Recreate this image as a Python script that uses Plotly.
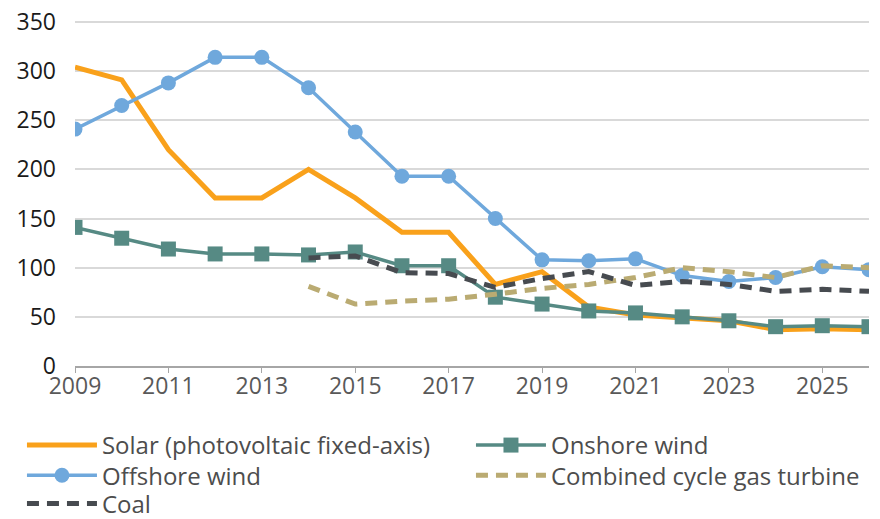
import plotly.graph_objects as go

years = list(range(2009, 2027))

solar = [304, 291, 220, 171, 171, 200, 171, 136, 136, 83, 96, 60, 52, 49, 46, 37, 38, 37]
offshore = [241, 265, 288, 314, 314, 283, 238, 193, 193, 150, 108, 107, 109, 92, 86, 90, 101, 98]
onshore = [141, 130, 119, 114, 114, 113, 116, 102, 102, 70, 63, 56, 54, 50, 46, 40, 41, 40]
ccgt_years = list(range(2014, 2027))
ccgt = [81, 63, 66, 68, 73, 79, 83, 90, 100, 96, 90, 102, 100]
coal_years = list(range(2014, 2027))
coal = [110, 112, 95, 94, 80, 89, 96, 82, 86, 83, 76, 78, 76]

orange = "#F9A11B"
blue = "#6FA8DC"
teal = "#568A84"
khaki = "#BAAB72"
dark = "#474B50"

fig = go.Figure()

# one legend per entry so the 2-column grid can be placed exactly
fig.add_trace(go.Scatter(x=years, y=solar, mode="lines", name="Solar (photovoltaic fixed-axis)",
                         line=dict(color=orange, width=5), legend="legend"))
fig.add_trace(go.Scatter(x=years, y=onshore, mode="lines+markers", name="Onshore wind",
                         line=dict(color=teal, width=3.5), marker=dict(symbol="square", size=15, color=teal),
                         legend="legend2"))
fig.add_trace(go.Scatter(x=years, y=offshore, mode="lines+markers", name="Offshore wind",
                         line=dict(color=blue, width=3.5), marker=dict(symbol="circle", size=15, color=blue),
                         legend="legend3"))
fig.add_trace(go.Scatter(x=ccgt_years, y=ccgt, mode="lines", name="Combined cycle gas turbine",
                         line=dict(color=khaki, width=5, dash="12px,8px"), legend="legend4"))
fig.add_trace(go.Scatter(x=coal_years, y=coal, mode="lines", name="Coal",
                         line=dict(color=dark, width=5, dash="12px,8px"), legend="legend5"))

legend_font = dict(family="Open Sans, sans-serif", size=24, color="#4D4D4D")


def leg(x, y):
    return dict(x=x, y=y, xanchor="left", yanchor="middle", orientation="v", visible=True,
                font=legend_font, itemwidth=70, bgcolor="rgba(0,0,0,0)")


col1, col2 = -0.0668, 0.4987
row1, row2, row3 = -0.2297, -0.3168, -0.3983

# page body has an 8px margin, so the figure is 8px smaller than the window
fig.update_layout(
    width=872, height=511,
    showlegend=True,
    paper_bgcolor="white", plot_bgcolor="white",
    margin=dict(l=67, r=11, t=12, b=153, autoexpand=False),
    font=dict(family="Open Sans, sans-serif", size=20, color="#262626"),
    xaxis=dict(range=[2009, 2026], tick0=2009, dtick=2, showgrid=False, automargin=False,
               tickangle=0,
               showline=True, linecolor="#A6A6A6", linewidth=1.5,
               ticks="outside", ticklen=5, tickcolor="#A6A6A6", ticklabelstandoff=-6,
               tickfont=dict(size=23, color="#595959")),
    yaxis=dict(range=[0, 352], tickmode="array", tickvals=[0, 50, 100, 150, 200, 250, 300, 350],
               showgrid=True, gridcolor="#D9D9D9", gridwidth=1.5, ticklabeloverflow="allow",
               zeroline=False, ticklabelstandoff=18, automargin=False,
               tickfont=dict(size=23, color="#1A1A1A")),
    legend=leg(col1, row1),
    legend2=leg(col2, row1),
    legend3=leg(col1, row2),
    legend4=leg(col2, row2),
    legend5=leg(col1, row3),
)

fig.write_html("out.html")
